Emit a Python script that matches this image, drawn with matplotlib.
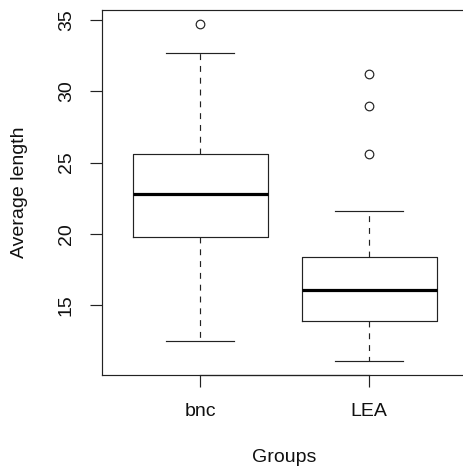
import matplotlib
matplotlib.use("Agg")
import matplotlib.pyplot as plt

plt.rcParams['font.family'] = ['Liberation Sans', 'DejaVu Sans']

# values
groups = ['bnc', 'LEA']
whisker_low = [12.5, 11.07]
box_low = [19.75, 13.86]
medians = [22.8, 16.05]
box_high = [25.6, 18.37]
whisker_high = [32.66, 21.57]
outliers = [[34.72], [31.2, 28.96, 25.6]]

stats = []
for i, name in enumerate(groups):
    stats.append({'label': name, 'whislo': whisker_low[i], 'q1': box_low[i],
                  'med': medians[i], 'q3': box_high[i], 'whishi': whisker_high[i],
                  'fliers': outliers[i]})

W, H = 464, 467
fig = plt.figure(figsize=(W / 100, H / 100), dpi=100)
left, right, top, bottom = 102.3, 467.0, 10.3, 375.0
ax = fig.add_axes([left / W, 1 - bottom / H, (right - left) / W, (bottom - top) / H])

lw = 0.85
ink = '#222222'
ax.bxp(stats, positions=[1, 2], widths=0.8, capwidths=0.4,
       boxprops=dict(color=ink, linewidth=lw),
       whiskerprops=dict(color=ink, linewidth=lw, linestyle=(0, (5, 5))),
       capprops=dict(color=ink, linewidth=lw),
       medianprops=dict(color='black', linewidth=2.3, solid_capstyle='butt'),
       flierprops=dict(marker='o', markersize=6.2, markerfacecolor='none',
                       markeredgecolor=ink, markeredgewidth=0.85))

ax.set_xlim(0.42, 2.58)
ax.set_ylim(10.09, 35.68)
ax.set_yticks([15, 20, 25, 30, 35])
ax.set_xticks([1, 2])
ax.set_xticklabels(groups)

for s in ax.spines.values():
    s.set_linewidth(0.85)
    s.set_color(ink)
# R draws the axis line over the box edge between the ticks
ax.plot([1, 2], [10.09, 10.09], color=ink, linewidth=0.85, clip_on=False)

ax.tick_params(axis='both', length=8.3, width=0.85, labelsize=14, pad=11.5,
               color=ink, labelcolor='#111111')
for lab in ax.get_yticklabels():
    lab.set_rotation(90)
    lab.set_va('center')
    lab.set_ha('right')

ax.set_ylabel('Average length', fontsize=14, va='center', color='#111111')
ax.yaxis.set_label_coords((20 - left) / (right - left), 0.5)
ax.set_xlabel('Groups', fontsize=14, va='center', color='#111111')
ax.xaxis.set_label_coords(0.5, (bottom - 458) / (bottom - top))

fig.savefig('out.png', dpi=100)
